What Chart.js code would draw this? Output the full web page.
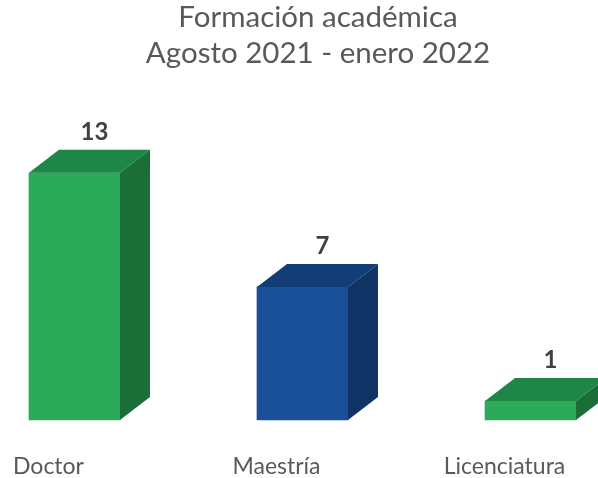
<!DOCTYPE html>
<html>
<head>
<meta charset="utf-8">
<script src="https://cdn.jsdelivr.net/npm/chart.js@4"></script>
<style>
  html, body { margin: 0; padding: 0; background: #fff; }
  #wrap { width: 598px; height: 478px; }
</style>
</head>
<body>
<div id="wrap"><canvas id="c"></canvas></div>
<script>
const categories = ['Doctor', 'Maestría', 'Licenciatura'];
const values = [13, 7, 1];
const titleLines = ['Formación académica', 'Agosto 2021 - enero 2022'];

// front / top / side shades per bar
const frontColors = ['#2bab57', '#1a5098', '#2bab57'];
const topColors = ['#1e8646', '#133d77', '#1e8646'];
const sideColors = ['#1b6e38', '#103466', '#1b6e38'];

const DEPTH_X = 30;
const DEPTH_Y = 23;

// draws the top and side faces plus value labels
const box3d = {
  id: 'box3d',
  afterDatasetsDraw(chart) {
    const ctx = chart.ctx;
    const meta = chart.getDatasetMeta(0);
    ctx.save();
    meta.data.forEach((bar, i) => {
      const left = bar.x - bar.width / 2;
      const right = bar.x + bar.width / 2;
      const top = bar.y;
      const bottom = bar.base;

      // top face
      ctx.fillStyle = topColors[i];
      ctx.beginPath();
      ctx.moveTo(left, top);
      ctx.lineTo(left + DEPTH_X, top - DEPTH_Y);
      ctx.lineTo(right + DEPTH_X, top - DEPTH_Y);
      ctx.lineTo(right, top);
      ctx.closePath();
      ctx.fill();

      // side face
      ctx.fillStyle = sideColors[i];
      ctx.beginPath();
      ctx.moveTo(right, top);
      ctx.lineTo(right + DEPTH_X, top - DEPTH_Y);
      ctx.lineTo(right + DEPTH_X, bottom - DEPTH_Y);
      ctx.lineTo(right, bottom);
      ctx.closePath();
      ctx.fill();

      // value label
      ctx.fillStyle = '#404040';
      ctx.font = 'bold 24px Lato';
      ctx.textAlign = 'center';
      ctx.textBaseline = 'middle';
      ctx.fillText(String(values[i]), bar.x + 20, top - DEPTH_Y - 18);
    });
    ctx.restore();
  }
};

new Chart(document.getElementById('c'), {
  type: 'bar',
  data: {
    datasets: [{
      data: values.map((v, i) => ({ x: i, y: v })),
      backgroundColor: frontColors,
      borderWidth: 0,
      barThickness: 91,
      clip: false
    }]
  },
  options: {
    responsive: true,
    maintainAspectRatio: false,
    animation: false,
    layout: {
      padding: { left: 38, right: 0, top: 0, bottom: 0 }
    },
    scales: {
      x: {
        type: 'linear',
        offset: false,
        min: -0.16,
        max: 2.296,
        grid: { display: false, drawTicks: false },
        border: { display: false },
        afterBuildTicks: (scale) => {
          scale.ticks = categories.map((c, i) => ({ value: i }));
        },
        afterFit: (scale) => {
          scale.height = 58;
          scale.paddingLeft = 0;
          scale.paddingRight = 0;
        },
        ticks: {
          color: '#595959',
          font: { family: 'Lato', size: 23 },
          padding: 33,
          labelOffset: -26,
          maxRotation: 0,
          autoSkip: false,
          callback: (v) => categories[v]
        }
      },
      y: {
        display: false,
        min: 0,
        max: 18
      }
    },
    plugins: {
      legend: { display: false },
      tooltip: { enabled: false },
      title: {
        display: true,
        text: titleLines,
        color: '#595959',
        font: { family: 'Lato', size: 29.5, weight: 'normal', lineHeight: 1.2 },
        padding: { top: 0, bottom: 7 }
      }
    }
  },
  plugins: [box3d]
});
</script>
</body>
</html>
